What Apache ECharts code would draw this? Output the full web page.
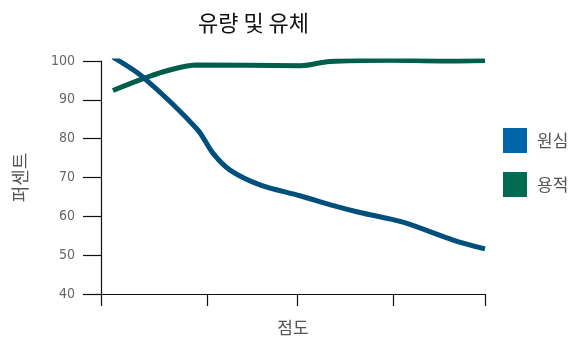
<!DOCTYPE html>
<html>
<head>
<meta charset="utf-8">
<script src="https://cdn.jsdelivr.net/npm/echarts@6/dist/echarts.min.js"></script>
<style>
  html, body { margin: 0; padding: 0; background: #fff; }
  #chart { width: 587px; height: 341px; }
</style>
</head>
<body>
<div id="chart"></div>
<script>
// Viscosity position (0–100 along the axis) and percentage values
const xTicks = [0, 27.6, 51, 76, 100];
const yTicks = [40, 50, 60, 70, 80, 90, 100];

const centrifugalX = [3.1, 11.0, 25.0, 29.2, 33.6, 41.4, 51.8, 62.2, 67.4, 78.6, 91.7, 100];
const centrifugalY = [101.0, 95.8, 82.5, 76.2, 71.9, 68.1, 65.3, 62.3, 61.0, 58.5, 53.9, 51.6];

const volumetricX = [3.1, 11.7, 17.2, 25.0, 52.0, 59.6, 75.3, 88.3, 100];
const volumetricY = [92.4, 95.7, 97.5, 99.0, 98.8, 99.9, 100.2, 100.0, 100.1];

const seriesNames = ['원심', '용적'];

const cjk = '"Noto Sans CJK KR", "Noto Sans", sans-serif';
const narrow = '"DejaVu Sans Condensed", "Liberation Sans Narrow", sans-serif';

const pairs = (xs, ys) => xs.map((x, i) => [x, ys[i]]);

const chart = echarts.init(document.getElementById('chart'), null, { renderer: 'canvas' });
chart.setOption({
  animation: false,
  backgroundColor: '#ffffff',
  title: {
    text: '유량 및 유체',
    left: 193,
    top: 7,
    textStyle: { fontFamily: cjk, fontSize: 22, fontWeight: 'normal', color: '#111' }
  },
  legend: {
    orient: 'vertical',
    left: 503,
    top: 128,
    padding: 0,
    itemWidth: 24,
    itemHeight: 25,
    itemGap: 19,
    icon: 'rect',
    textStyle: { fontFamily: cjk, fontSize: 17, color: '#555', padding: [0, 0, 0, 5] },
    data: [
      { name: seriesNames[0], itemStyle: { color: '#0066a8' } },
      { name: seriesNames[1], itemStyle: { color: '#006b52' } }
    ]
  },
  grid: { left: 101, right: 102, top: 61, bottom: 43 },
  xAxis: {
    type: 'value',
    min: 0,
    max: 100,
    name: '점도',
    nameLocation: 'middle',
    nameGap: 25,
    nameTextStyle: { fontFamily: cjk, fontSize: 17, color: '#555' },
    axisLine: { show: true, lineStyle: { color: '#111', width: 1.2 } },
    axisTick: { show: true, length: 12, customValues: xTicks, lineStyle: { color: '#111', width: 1.2 } },
    axisLabel: { show: false },
    splitLine: { show: false }
  },
  yAxis: {
    type: 'value',
    min: 40,
    max: 100,
    interval: 10,
    name: '퍼센트',
    nameLocation: 'middle',
    nameGap: 72,
    nameRotate: 90,
    nameTextStyle: { fontFamily: cjk, fontSize: 18, color: '#555' },
    axisLine: { show: true, lineStyle: { color: '#111', width: 1.2 } },
    axisTick: { show: true, length: 18, customValues: yTicks, lineStyle: { color: '#111', width: 1.2 } },
    axisLabel: { fontFamily: narrow, fontSize: 14, color: '#666', margin: 26 },
    splitLine: { show: false }
  },
  series: [
    {
      name: seriesNames[0],
      type: 'line',
      data: pairs(centrifugalX, centrifugalY),
      smooth: 0.3,
      showSymbol: false,
      itemStyle: { color: '#0066a8' },
      lineStyle: { color: '#004f7c', width: 5, cap: 'butt' },
      z: 3
    },
    {
      name: seriesNames[1],
      type: 'line',
      data: pairs(volumetricX, volumetricY),
      smooth: 0.35,
      showSymbol: false,
      itemStyle: { color: '#006b52' },
      lineStyle: { color: '#005e4a', width: 5, cap: 'butt' },
      z: 2
    }
  ]
});
</script>
</body>
</html>
